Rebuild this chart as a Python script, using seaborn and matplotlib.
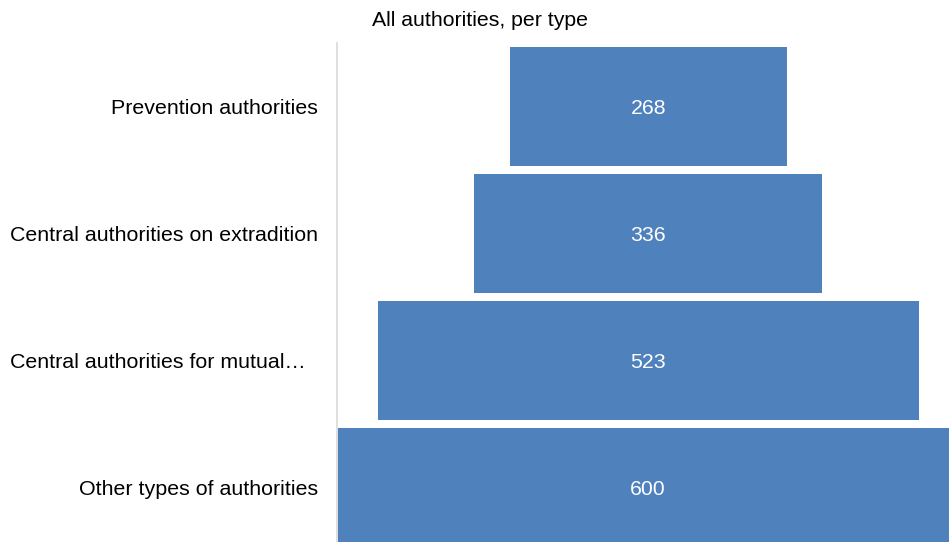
import matplotlib
matplotlib.use("Agg")
import matplotlib.pyplot as plt
import seaborn as sns
import pandas as pd

categories = ["Prevention authorities", "Central authorities on extradition",
              "Central authorities for mutual…  ", "Other types of authorities"]
values = [268, 336, 523, 600]
title = "All authorities, per type"

sns.set_theme(style="white")
plt.rcParams['font.family'] = ['Liberation Sans', 'DejaVu Sans']

df = pd.DataFrame({"category": categories, "value": values})

fig = plt.figure(figsize=(9.49, 5.42), dpi=100)
ax = fig.add_axes([337/949, 0.0, 1 - 337/949, 1 - 43/542])

sns.barplot(data=df, x="value", y="category", orient="h", color="#4F81BD",
            saturation=1, width=119/127, ax=ax)

# center bars (funnel)
for p in ax.patches:
    p.set_x(-p.get_width() / 2)
    p.set_edgecolor("none")

for i, v in enumerate(values):
    ax.text(0, i + 0.015, str(v), ha="center", va="center", color="white", fontsize=15.3)

ax.set_xlim(-301, 291)
ax.set_ylim(3.43, -0.5)
ax.set_xlabel("")
ax.set_ylabel("")
ax.set_xticks([])
ax.tick_params(axis="y", length=0, pad=13.5, labelsize=15.4, labelcolor="black")
for s in ["top", "right", "bottom"]:
    ax.spines[s].set_visible(False)
ax.spines["left"].set_color("#d9d9d9")
ax.spines["left"].set_linewidth(1.2)

fig.text(480/949, 1 - 20/542, title, ha="center", va="center", fontsize=15.3, color="black")

fig.savefig("out.png", dpi=100)
